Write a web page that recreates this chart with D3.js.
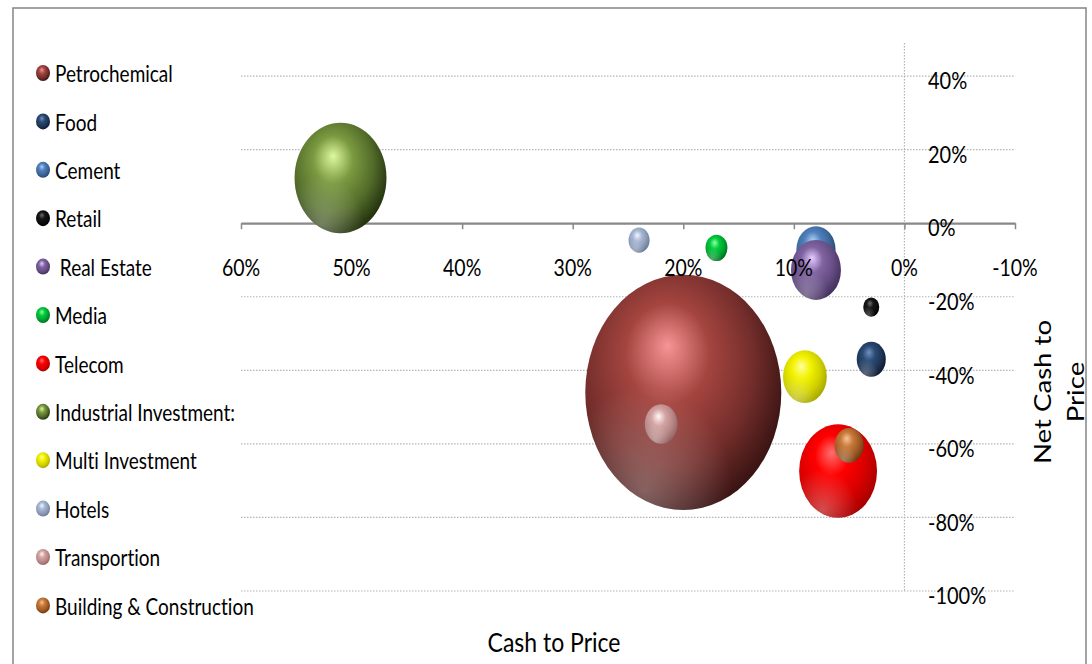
<!DOCTYPE html>
<html>
<head>
<meta charset="utf-8">
<script src="https://cdn.jsdelivr.net/npm/d3@7/dist/d3.min.js"></script>
<style>
  html, body { margin: 0; padding: 0; background: #fff; }
  svg { display: block; }
  text { font-family: Lato, "Open Sans", sans-serif; fill: #000; font-variant-ligatures: none; }
</style>
</head>
<body>
<svg id="chart" width="1092" height="664"></svg>
<script>
// ---- data ----
const sectors = ["Petrochemical", "Food", "Cement", "Retail", " Real Estate", "Media", "Telecom",
  "Industrial Investment:", "Multi Investment", "Hotels", "Transportion", "Building & Construction"];
const cashToPrice =    [0.20, 0.03, 0.08, 0.03, 0.08, 0.17, 0.06, 0.51, 0.09, 0.24, 0.22, 0.05];
const netCashToPrice = [-0.46, -0.37, -0.072, -0.228, -0.127, -0.067, -0.674, 0.123, -0.417, -0.046, -0.546, -0.604];
const bubbleSize =     [100, 2.2, 4.0, 0.67, 6.5, 1.26, 15.8, 22, 5.0, 1.15, 2.8, 2.2];
const xTicks = [0.6, 0.5, 0.4, 0.3, 0.2, 0.1, 0, -0.1];
const yTicks = [0.4, 0.2, 0, -0.2, -0.4, -0.6, -0.8, -1.0];
// colours: base, highlight, shade
const baseColors =  ["#A4443F", "#2B4A75", "#4F81BD", "#151515", "#8064A2", "#00CC3A", "#FF0000", "#7A9A40", "#F2F200", "#A8B8D4", "#D4A4A4", "#C87838"];
const lightColors = ["#F59494", "#7090C0", "#B0D0F5", "#707070", "#E6CCFF", "#90FFA8", "#FF7070", "#DDF8A0", "#FFFF9A", "#F2F6FF", "#FFF6F6", "#F7C496"];
const darkColors =  ["#3A1413", "#0E1B30", "#28466E", "#000000", "#44305E", "#007020", "#A80000", "#24330F", "#A8A800", "#6A7A96", "#966666", "#70380F"];

const svg = d3.select("#chart");
const defs = svg.append("defs");

// border
svg.append("rect").attr("x", 13).attr("y", 8).attr("width", 1073).attr("height", 670)
  .attr("fill", "#fff").attr("stroke", "#8c8c8c").attr("stroke-width", 1.6);

const x = d3.scaleLinear().domain([0.6, -0.1]).range([241, 1015]);
const y = d3.scaleLinear().domain([0.49, -1.0]).range([43, 591]);
const r = d3.scaleSqrt().domain([0, 100]).range([0, 98]);
const yStretch = 1.2;
const pct = v => d3.format(".0%")(v).replace("\u2212", "-");

// gradients
baseColors.forEach((c, i) => {
  const g = defs.append("radialGradient").attr("id", "g" + i)
    .attr("cx", "0.42").attr("cy", "0.4").attr("r", "0.62")
    .attr("fx", "0.42").attr("fy", "0.3");
  g.append("stop").attr("offset", "0%").attr("stop-color", lightColors[i]);
  g.append("stop").attr("offset", "35%").attr("stop-color", c);
  g.append("stop").attr("offset", "70%").attr("stop-color", d3.interpolateRgb(c, darkColors[i])(0.45));
  g.append("stop").attr("offset", "100%").attr("stop-color", darkColors[i]);
});
const rim = defs.append("radialGradient").attr("id", "rim")
  .attr("cx", "0.3").attr("cy", "0.92").attr("r", "0.45");
rim.append("stop").attr("offset", "0%").attr("stop-color", "#fff").attr("stop-opacity", 0.3);
rim.append("stop").attr("offset", "100%").attr("stop-color", "#fff").attr("stop-opacity", 0);

// horizontal gridlines
svg.append("g").selectAll("line").data(yTicks.filter(d => d !== 0)).join("line")
  .attr("x1", x(0.6)).attr("x2", x(-0.1))
  .attr("y1", d => y(d)).attr("y2", d => y(d))
  .attr("stroke", "#b4b4b4").attr("stroke-width", 1.2).attr("stroke-dasharray", "1.5,1.5");

// vertical axis (dotted) at x=0
svg.append("line").attr("x1", x(0)).attr("x2", x(0)).attr("y1", y(0.49)).attr("y2", y(-1.0))
  .attr("stroke", "#b4b4b4").attr("stroke-width", 1.2).attr("stroke-dasharray", "1.5,1.5");

// x axis line at y=0
const xAxis = d3.axisBottom(x).tickValues(xTicks).tickFormat("").tickSize(6).tickSizeOuter(0);
const gx = svg.append("g").attr("transform", `translate(0,${y(0)})`).call(xAxis);
gx.select(".domain").attr("stroke", "#888").attr("stroke-width", 2.2);
gx.selectAll(".tick line").attr("stroke", "#888").attr("stroke-width", 1.5);

// bubbles
const order = d3.range(sectors.length);
const bub = svg.append("g").selectAll("g").data(order).join("g");
bub.append("ellipse")
  .attr("cx", i => x(cashToPrice[i])).attr("cy", i => y(netCashToPrice[i]))
  .attr("rx", i => r(bubbleSize[i])).attr("ry", i => r(bubbleSize[i]) * yStretch)
  .attr("fill", i => `url(#g${i})`);
bub.append("ellipse")
  .attr("cx", i => x(cashToPrice[i])).attr("cy", i => y(netCashToPrice[i]))
  .attr("rx", i => r(bubbleSize[i])).attr("ry", i => r(bubbleSize[i]) * yStretch)
  .attr("fill", "url(#rim)");

// x tick labels (on top of bubbles)
svg.append("g").selectAll("text").data(xTicks).join("text")
  .attr("transform", d => `translate(${x(d)},267) scale(1,1.2)`)
  .attr("text-anchor", "middle").attr("dominant-baseline", "central")
  .attr("font-size", 19.5).text(d => pct(d));

// y tick labels
svg.append("g").selectAll("text").data(yTicks).join("text")
  .attr("transform", d => `translate(928,${y(d) + 4}) scale(1,1.2)`)
  .attr("dominant-baseline", "central")
  .attr("font-size", 20).text(d => pct(d));

// legend
const leg = svg.append("g").selectAll("g").data(order).join("g")
  .attr("transform", i => `translate(0,${73 + i * 48.4})`);
leg.append("ellipse").attr("cx", 43).attr("cy", 0).attr("rx", 7).attr("ry", 8)
  .attr("fill", i => `url(#g${i})`);
leg.append("text").attr("transform", "translate(55,0) scale(1,1.2)")
  .attr("dominant-baseline", "central")
  .attr("font-size", 19).style("white-space", "pre")
  .text(i => sectors[i]);

// axis titles
svg.append("text").attr("transform", "translate(554,641) scale(1,1.2)").attr("text-anchor", "middle")
  .attr("dominant-baseline", "central").attr("font-size", 23).text("Cash to Price");
const yt = svg.append("text").attr("transform", "translate(1058,392) scale(1,1.2) rotate(-90)")
  .attr("text-anchor", "middle").attr("font-size", 23);
yt.append("tspan").attr("x", 0).attr("y", -7).text("Net Cash to");
yt.append("tspan").attr("x", 0).attr("y", 26).text("Price");
</script>
</body>
</html>
